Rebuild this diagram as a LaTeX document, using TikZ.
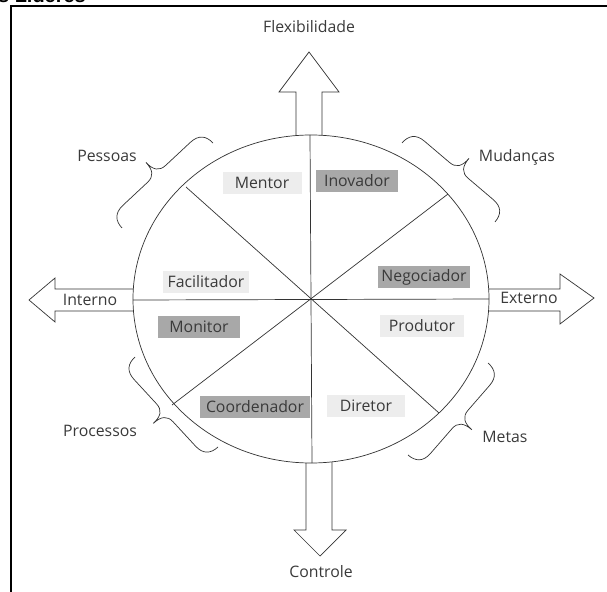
\documentclass[tikz,border=0pt]{standalone}
\usepackage{fontspec}
\setmainfont{Open Sans}
\newfontfamily\titlefont{Liberation Sans}
\usetikzlibrary{calc}
\definecolor{ink}{HTML}{333333}
\definecolor{txt}{HTML}{3A3A3A}
\definecolor{lightbox}{HTML}{EDEDED}
\definecolor{darkbox}{HTML}{A8A8A8}
% brace from #1 to #2, bulging to the left of the direction #1 -> #2
\newcommand{\drawbrace}[2]{%
  \draw[ln]
    (#1) .. controls ($(#1)!0!(#2)!8.5pt!90:(#2)$) and ($(#1)!0.04!(#2)!13.6pt!90:(#2)$)
    .. ($(#1)!0.13!(#2)!13.6pt!90:(#2)$)
    -- ($(#1)!0.40!(#2)!13.6pt!90:(#2)$)
    .. controls ($(#1)!0.47!(#2)!13.6pt!90:(#2)$) and ($(#1)!0.5!(#2)!18pt!90:(#2)$)
    .. ($(#1)!0.5!(#2)!27pt!90:(#2)$)
    .. controls ($(#2)!0.5!(#1)!18pt!-90:(#1)$) and ($(#2)!0.47!(#1)!13.6pt!-90:(#1)$)
    .. ($(#2)!0.40!(#1)!13.6pt!-90:(#1)$)
    -- ($(#2)!0.13!(#1)!13.6pt!-90:(#1)$)
    .. controls ($(#2)!0.04!(#1)!13.6pt!-90:(#1)$) and ($(#2)!0!(#1)!8.5pt!-90:(#1)$)
    .. (#2);}
\begin{document}
\begin{tikzpicture}[x=0.03cm,y=-0.03cm,
  lbl/.style={text=txt,font=\fontsize{13.5}{16}\selectfont,inner sep=0pt},
  role/.style={lbl,minimum height=0.66cm},
  lrole/.style={role,fill=lightbox},
  drole/.style={role,fill=darkbox},
  ln/.style={draw=ink,line width=0.6pt},
  bigarrow/.style={draw=ink,line width=0.6pt,fill=white,line join=miter},
]
\useasboundingbox (0,0) rectangle (607,592);
% frame and clipped title
\draw[line width=2.2pt] (11,600) -- (11,6) -- (610,6);
\node[anchor=base west,inner sep=0pt,font=\titlefont\bfseries\fontsize{17}{17}\selectfont] (title) at (-2,3) {s Líderes};

% outer arrows
\draw[bigarrow] (296,136) -- (296,92) -- (279,92) -- (309,52) -- (339,92) -- (322,92) -- (322,136);
\draw[bigarrow] (306,462) -- (306,530) -- (294,530) -- (320,556) -- (346,530) -- (332,530) -- (332,462);
\draw[bigarrow] (134,289) -- (55,289) -- (55,278) -- (29,300) -- (55,322) -- (55,311) -- (134,311);
\draw[bigarrow] (488,289) -- (560,289) -- (560,274) -- (594,298) -- (560,324) -- (560,311) -- (488,311);

% circle and spokes
\coordinate (C) at (311,299);
\draw[ln,fill=white] (C) ellipse [x radius=5.34cm, y radius=4.92cm];
\coordinate (T) at (310,135);
\coordinate (B) at (312,463);
\coordinate (L) at (133,300);
\coordinate (R) at (489,299);
\coordinate (UL) at (186,187);
\coordinate (LR) at (439,413);
\coordinate (UR) at (448,194);
\coordinate (LL) at (172,405);
\draw[ln] (T) -- (B);
\draw[ln] (L) -- (R);
\draw[ln] (UL) -- (LR);
\draw[ln] (UR) -- (LL);

% braces
\coordinate (p1) at (122,228); \coordinate (p2) at (213,143);
\coordinate (m1) at (402,143); \coordinate (m2) at (495,222);
\coordinate (q1) at (218,447); \coordinate (q2) at (135,357);
\coordinate (t1) at (488,363); \coordinate (t2) at (408,455);
\drawbrace{p1}{p2}
\drawbrace{m1}{m2}
\drawbrace{q1}{q2}
\drawbrace{t1}{t2}

% roles
\node[lrole,minimum width=79*0.03cm] (mentor) at (262,183) {Mentor};
\node[drole,minimum width=82*0.03cm] (inovador) at (357,181) {Inovador};
\node[lrole,minimum width=86*0.03cm] (facilitador) at (206,282) {Facilitador};
\node[drole,minimum width=92*0.03cm] (negociador) at (424,277) {Negociador};
\node[drole,minimum width=82*0.03cm] (monitor) at (199,327) {Monitor};
\node[lrole,minimum width=84*0.03cm] (produtor) at (422,326) {Produtor};
\node[drole,minimum width=110*0.03cm] (coordenador) at (255,407) {Coordenador};
\node[lrole,minimum width=78*0.03cm] (diretor) at (366,406) {Diretor};

% axis labels
\node[lbl] (flex) at (309,27) {Flexibilidade};
\node[lbl] (controle) at (321,572) {Controle};
\node[lbl] (interno) at (90,300) {Interno};
\node[lbl] (externo) at (529,298) {Externo};
\node[lbl] (pessoas) at (107,156) {Pessoas};
\node[lbl] (mudancas) at (517,157) {Mudanças};
\node[lbl] (processos) at (100,431) {Processos};
\node[lbl] (metas) at (505,437) {Metas};
\end{tikzpicture}
\end{document}
